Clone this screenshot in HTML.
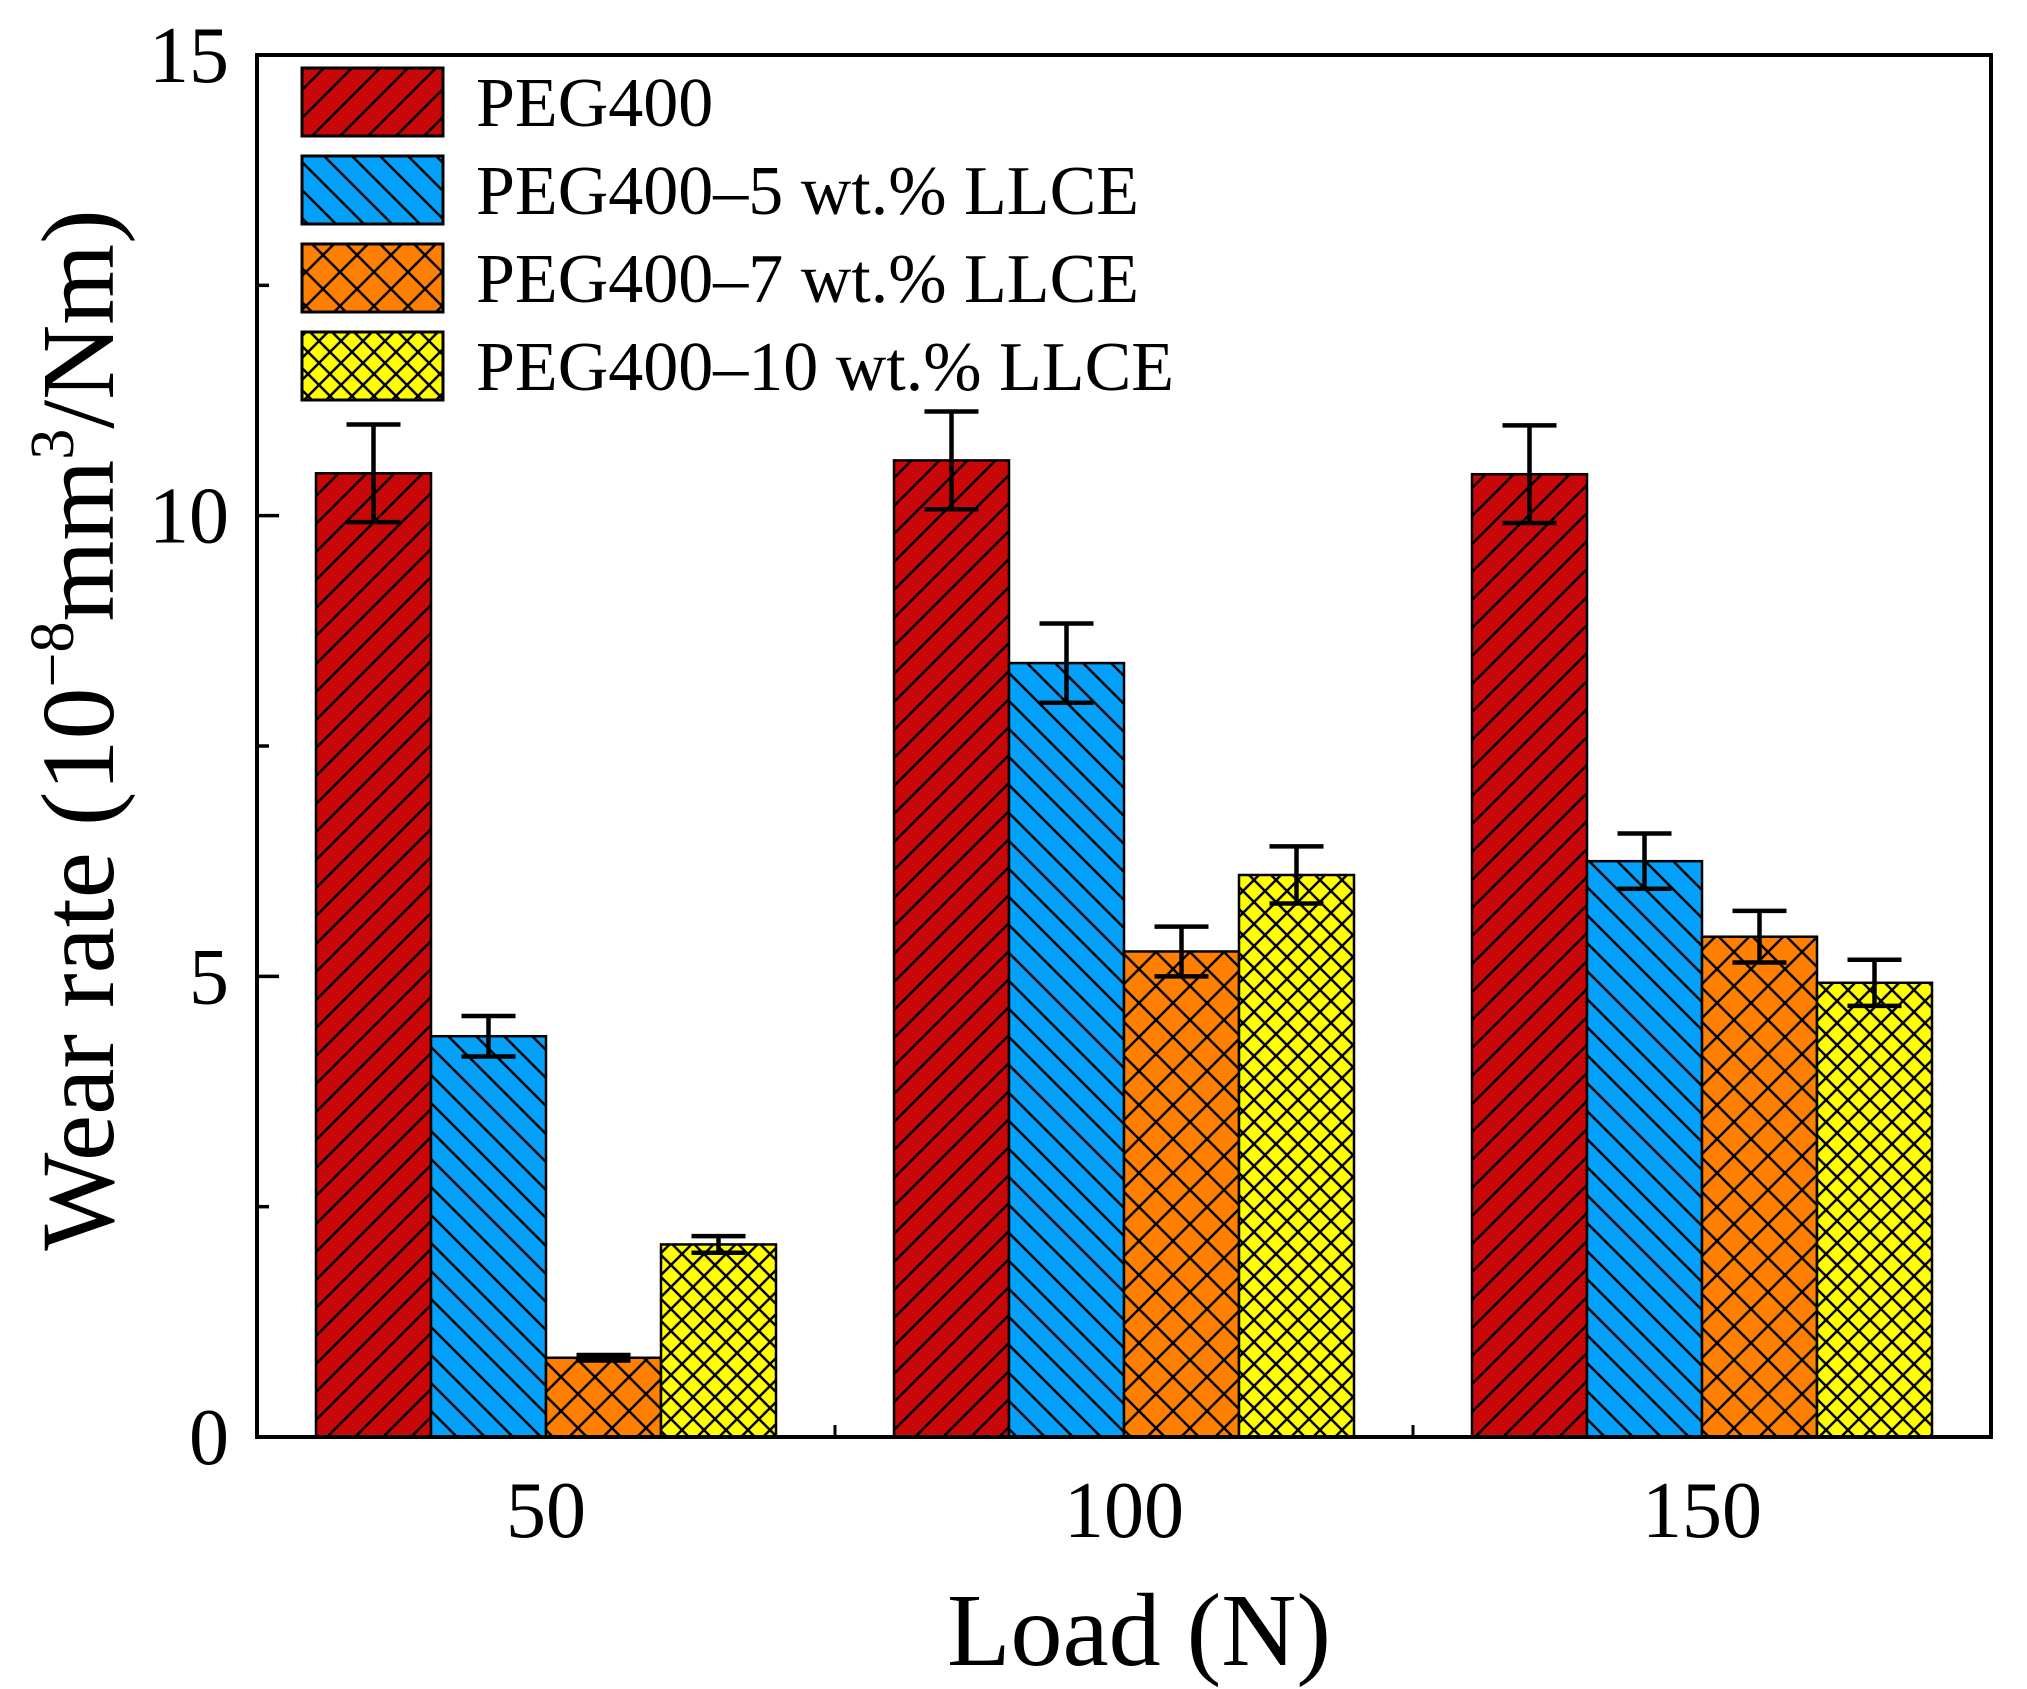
<!DOCTYPE html>
<html><head><meta charset="utf-8"><style>
html,body{margin:0;padding:0;background:#fff;}
svg{display:block;font-family:"Liberation Serif",serif;}
</style></head><body>
<svg id="chart" width="2027" height="1689" viewBox="0 0 2027 1689">
<defs>
<pattern id="p0" patternUnits="userSpaceOnUse" width="28" height="28"><rect width="28" height="28" fill="#C80808"/><path d="M0,28 L28,0 M-7,7 L7,-7 M21,35 L35,21" stroke="#000" stroke-width="2.5"/></pattern>
<pattern id="p1" patternUnits="userSpaceOnUse" width="28" height="28"><rect width="28" height="28" fill="#03A1FA"/><path d="M0,0 L28,28 M-7,21 L7,35 M21,-7 L35,7" stroke="#000" stroke-width="2.5"/></pattern>
<pattern id="p2" patternUnits="userSpaceOnUse" width="34" height="34"><rect width="34" height="34" fill="#FF8000"/><path d="M0,0 L34,34 M0,34 L34,0" stroke="#000" stroke-width="2.5"/></pattern>
<pattern id="p3" patternUnits="userSpaceOnUse" width="22" height="22"><rect width="22" height="22" fill="#FFFF00"/><path d="M0,0 L22,22 M0,22 L22,0" stroke="#000" stroke-width="2.5"/></pattern>
</defs>
<g id="plot"></g>
</svg>
<script>
const categories = ["50","100","150"];
const seriesNames = ["PEG400","PEG400\u20135 wt.% LLCE","PEG400\u20137 wt.% LLCE","PEG400\u201310 wt.% LLCE"];
const peg400 = [10.46, 10.6, 10.45];
const llce5 = [4.35, 8.4, 6.25];
const llce7 = [0.86, 5.27, 5.43];
const llce10 = [2.09, 6.1, 4.93];
const err400 = [0.53, 0.53, 0.53];
const err5 = [0.22, 0.43, 0.3];
const err7 = [0.03, 0.27, 0.28];
const err10 = [0.09, 0.31, 0.25];
const yTicks = [0, 5, 10, 15];
const yMinorTicks = [2.5, 7.5, 12.5];

const L=257, R=1991, T=55, B=1437, yMax=15;
const NS="http://www.w3.org/2000/svg";
const g=document.getElementById('plot');
function y(v){return B-(v/yMax)*(B-T);}
const band=(R-L)/categories.length;
function xc(i){return L+band*(i+0.5);}
const barW=115;
function mk(tag,attrs,parent){const e=document.createElementNS(NS,tag);for(const k in attrs)e.setAttribute(k,attrs[k]);(parent||g).appendChild(e);return e;}

const vals=[peg400,llce5,llce7,llce10], errs=[err400,err5,err7,err10];
categories.forEach((c,i)=>{
  vals.forEach((arr,s)=>{
    const x0=xc(i)-2*barW+s*barW;
    const r=mk('rect',{x:x0,y:y(arr[i]),width:barW,height:B-y(arr[i]),fill:'url(#p'+s+')',stroke:'#000','stroke-width':2.5});
    
    
    const cx=x0+barW/2, hi=y(arr[i]+errs[s][i]), lo=y(arr[i]-errs[s][i]);
    const eb=mk('path',{d:`M${cx},${hi} L${cx},${lo} M${cx-27},${hi} L${cx+27},${hi} M${cx-27},${lo} L${cx+27},${lo}`,stroke:'#000','stroke-width':4.5,fill:'none'});
    
    
  });
  const t=mk('text',{x:xc(i),y:B+100,'font-size':80,'text-anchor':'middle'});
  t.textContent=c;
  
  
  if(i>0){const tk=mk('line',{x1:L+band*i,x2:L+band*i,y1:B,y2:B-12,stroke:'#000','stroke-width':3});
    
    }
});
yTicks.forEach(v=>{
  const tk=mk('line',{x1:L,x2:L+22,y1:y(v),y2:y(v),stroke:'#000','stroke-width':3.5});
  
  
  const t=mk('text',{x:L-28,y:y(v)+27,'font-size':80,'text-anchor':'end'});
  t.textContent=v;
  
  
});
yMinorTicks.forEach(v=>{
  const tk=mk('line',{x1:L,x2:L+12,y1:y(v),y2:y(v),stroke:'#000','stroke-width':3.5});
  
  
});
const frame=mk('rect',{x:L,y:T,width:R-L,height:B-T,fill:'none',stroke:'#000','stroke-width':4});



seriesNames.forEach((n,s)=>{
  const ly=68+s*88;
  const b=mk('rect',{x:302,y:ly,width:141,height:68,fill:'url(#p'+s+')',stroke:'#000','stroke-width':3});
  
  
  const t=mk('text',{x:476,y:ly+58,'font-size':70});
  t.textContent=n;
  
  
});

const xt=mk('text',{x:(L+R)/2+15,y:1665,'font-size':104,'text-anchor':'middle'});
xt.textContent='Load (N)';


const yt=mk('text',{x:0,y:0,'font-size':104,'text-anchor':'middle',transform:'translate(113,730) rotate(-90)'});
yt.innerHTML='Wear rate (10<tspan dy="-40" font-size="62">\u22128</tspan><tspan dy="40">mm</tspan><tspan dy="-40" font-size="62">3</tspan><tspan dy="40">/Nm)</tspan>';


</script>
</body></html>
